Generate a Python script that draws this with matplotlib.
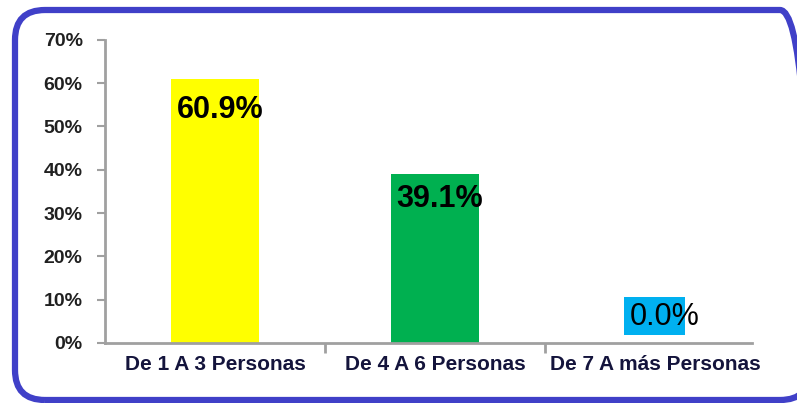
import matplotlib.pyplot as plt
from matplotlib.patches import FancyBboxPatch, Rectangle
from matplotlib.ticker import PercentFormatter
from matplotlib.transforms import ScaledTranslation

categories = ['De 1 A 3 Personas', 'De 4 A 6 Personas', 'De 7 A más Personas']
values = [0.609, 0.391, 0.0]
labels = ['60.9%', '39.1%', '0.0%']
bar_colors = ['#FFFF00', '#00B050', '#00B0F0']
yticks = [0, 0.1, 0.2, 0.3, 0.4, 0.5, 0.6, 0.7]

fig = plt.figure(figsize=(7.97, 4.03), dpi=100)
ax = fig.add_axes([0.1317, 0.149, 0.828, 0.752])

x = range(len(categories))
ax.bar(x, values, width=0.4, color=bar_colors)

# data labels
offsets = [(4, -22), (3, -18), (7, 19)]
weights = ['bold', 'bold', 'normal']
for i, (v, lab) in enumerate(zip(values, labels)):
    if v == 0:
        # cyan label box behind the zero value, a bit off-centre from the text
        trans = fig.dpi_scale_trans + ScaledTranslation(i, v, ax.transData)
        ax.add_patch(Rectangle((-0.305, 0.08), 0.61, 0.38, transform=trans,
                               fc=bar_colors[i], ec='none', zorder=2))
    ax.annotate(lab, (i, v), xytext=offsets[i], textcoords='offset points',
                ha='center', va='center', fontsize=22, fontweight=weights[i],
                family='Liberation Sans', zorder=3)

ax.set_xlim(-0.5, len(categories) - 0.5)
ax.set_ylim(0, 0.7)
ax.set_yticks(yticks)
ax.yaxis.set_major_formatter(PercentFormatter(1.0, decimals=0))
for t in ax.get_yticklabels():
    t.set_fontsize(14)
    t.set_fontweight('bold')
    t.set_family('Liberation Sans')
    t.set_color('#202020')

ax.set_xticks(list(x))
ax.set_xticklabels(categories, fontsize=15, fontweight='bold',
                   family='Liberation Sans', color='#14143C')
ax.tick_params(axis='x', length=0, pad=9)
ax.set_xticks([0.5, 1.5], minor=True)
ax.tick_params(axis='x', which='minor', length=7, width=2, color='#a0a0a0')
ax.tick_params(axis='y', length=6, width=1.5, color='#a0a0a0', pad=10)

for s in ['top', 'right']:
    ax.spines[s].set_visible(False)
for s in ['left', 'bottom']:
    ax.spines[s].set_color('#a0a0a0')
    ax.spines[s].set_linewidth(2)
ax.spines['bottom'].set_bounds(-0.5, 2.44)

# rounded border around the chart
border = FancyBboxPatch((0.15, 0.03), 7.95, 3.9,
                        boxstyle='round,pad=0,rounding_size=0.3',
                        transform=fig.dpi_scale_trans, fc='none', ec='#4040C8',
                        lw=4.5, clip_on=False)
fig.patches.append(border)

fig.savefig('out.png', dpi=100)
